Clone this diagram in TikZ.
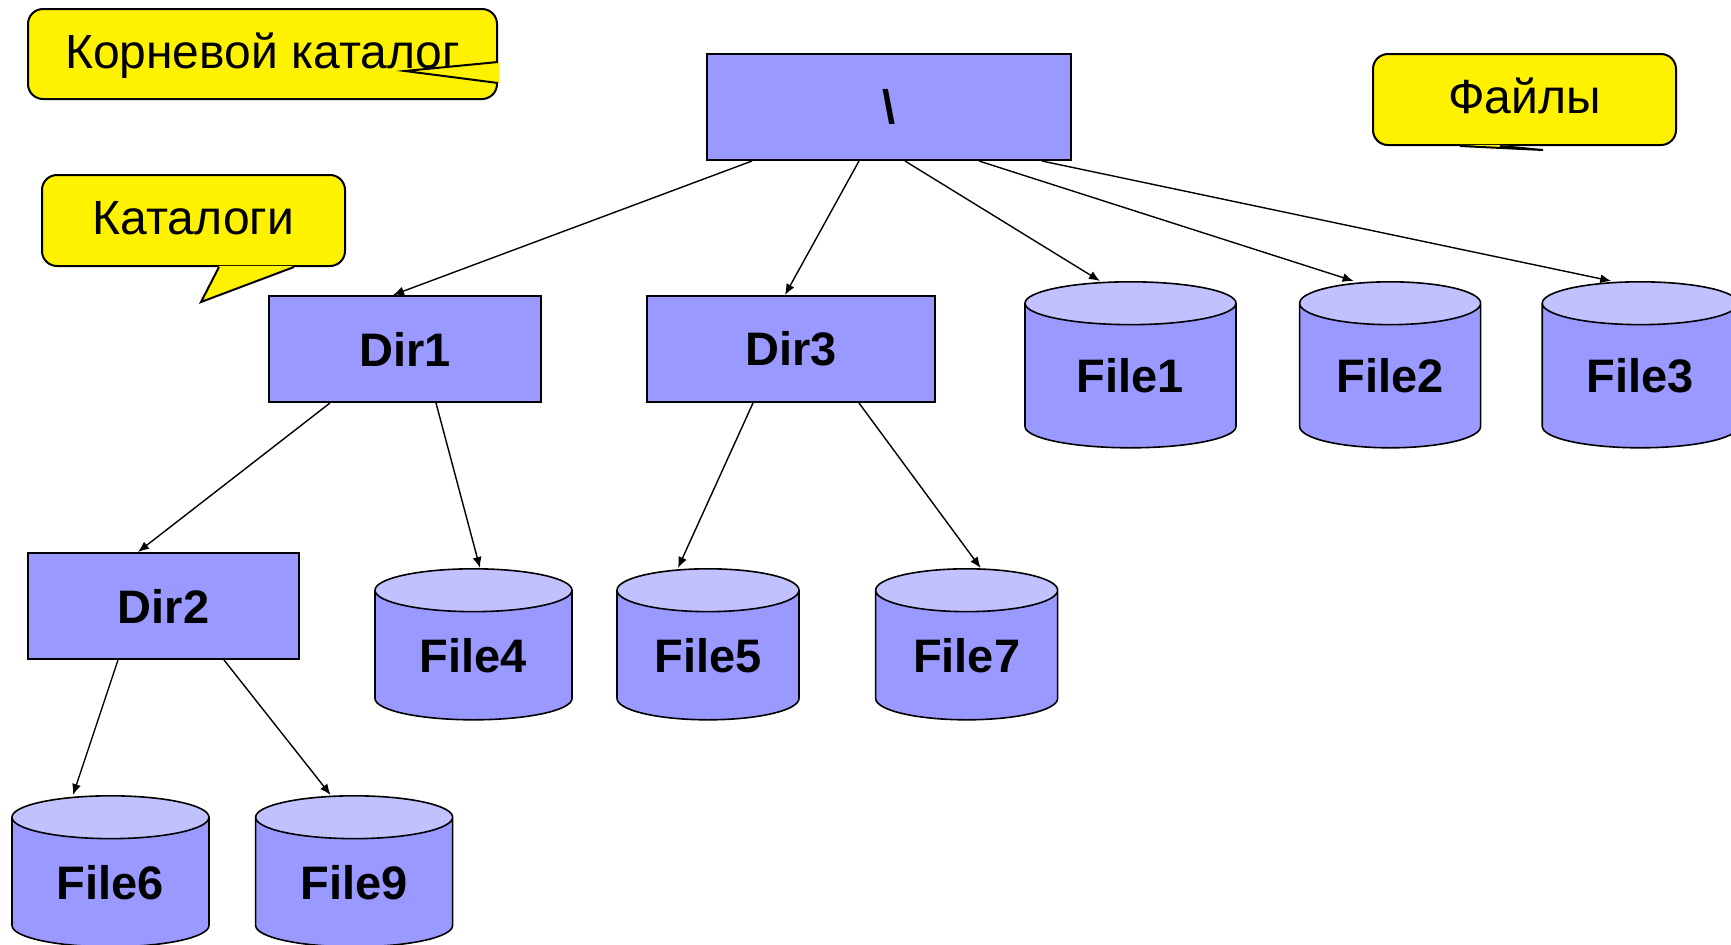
\documentclass[tikz,border=0pt]{standalone}
\usepackage{fontspec}
\setmainfont{Liberation Sans}
\usetikzlibrary{arrows.meta,positioning,calc,shapes.geometric}

\definecolor{dirblue}{RGB}{153,153,255}
\definecolor{filetop}{RGB}{193,193,255}

\begin{document}
\begin{tikzpicture}[node distance=60pt,>={Latex[length=5.5pt,width=4.5pt]}]
\tikzstyle{dirbox}=[draw, line width=1pt, fill=dirblue, inner sep=0pt, minimum height=53pt, font=\fontsize{23.5}{28}\selectfont\bfseries]
\tikzstyle{filecyl}=[draw, line width=0.8pt, cylinder, shape border rotate=90, aspect=0.4, cylinder uses custom fill, cylinder body fill=dirblue, cylinder end fill=filetop, inner sep=0pt, font=\fontsize{23.5}{28}\selectfont\bfseries]
\tikzstyle{note}=[draw, line width=1pt, fill=yellow, rounded corners=7.5pt, inner sep=0pt, minimum width=151.5pt, minimum height=45.5pt, text height=18pt, text depth=3.8pt, font=\fontsize{24}{28}\selectfont]
\tikzstyle{link}=[->, line width=0.7pt]
\path[use as bounding box, clip] (0,0) rectangle (865.5pt,-472pt);

% directories
\node[dirbox, minimum width=182pt] (root) at (444.5pt,-53.5pt) {\textbackslash};
\node[dirbox, below=67pt of root, xshift=-242pt, minimum width=136pt] (dir1) {Dir1};
\node[dirbox, below=67pt of root, xshift=-49pt, minimum width=144pt] (dir3) {Dir3};
\node[dirbox, below=74.5pt of dir1, xshift=-120.75pt, minimum width=135.5pt] (dir2) {Dir2};

% files
\node[filecyl, below=60pt of root, xshift=120.75pt, minimum width=105.5pt, minimum height=83pt] (file1) {File1};
\node[filecyl, right=31pt of file1, minimum width=90.5pt, minimum height=83pt] (file2) {File2};
\node[filecyl, right=30pt of file2, minimum width=98pt, minimum height=83pt] (file3) {File3};
\node[filecyl, below=82.5pt of dir1, xshift=34.25pt, minimum width=98.5pt, minimum height=75.5pt] (file4) {File4};
\node[filecyl, below=82.5pt of dir3, xshift=-41.5pt, minimum width=91pt, minimum height=75.5pt] (file5) {File5};
\node[filecyl, right=37.5pt of file5, minimum width=91pt, minimum height=75.5pt] (file7) {File7};
\node[filecyl, below=67.5pt of dir2, xshift=-26.5pt, minimum width=98.5pt, minimum height=75.5pt] (file6) {File6};
\node[filecyl, right=22.5pt of file6, minimum width=98.5pt, minimum height=75.5pt] (file9) {File9};

% notes
\node[note, minimum width=234.5pt, minimum height=45pt] (rootnote) at (131.25pt,-27pt) {Корневой каталог};
\node[note] (dirnote) at (96.75pt,-110.25pt) {Каталоги};
\node[note] (filenote) at (762.25pt,-49.75pt) {Файлы};

\fill[yellow] ($(rootnote.east)+(0.5pt,-4pt)$) -- ($(rootnote.east)+(-46.5pt,-8.5pt)$) -- ($(rootnote.east)+(0.5pt,-14.5pt)$) -- cycle;
\draw[line width=1pt] ($(rootnote.east)+(0,-4pt)$) -- ($(rootnote.east)+(-46.5pt,-8.5pt)$) -- ($(rootnote.east)+(0,-14.5pt)$);
\fill[yellow] ($(dirnote.south)+(12.75pt,0.6pt)$) -- ($(dirnote.south)+(3.75pt,-17.5pt)$) -- ($(dirnote.south)+(50.25pt,0.6pt)$) -- cycle;
\draw[line width=1pt] ($(dirnote.south)+(12.75pt,0)$) -- ($(dirnote.south)+(3.75pt,-17.5pt)$) -- ($(dirnote.south)+(50.25pt,0)$);
\fill[yellow] ($(filenote.south)+(-32.25pt,0.6pt)$) -- ($(filenote.south)+(9.25pt,-2pt)$) -- ($(filenote.south)+(-12.25pt,0.6pt)$) -- cycle;
\draw[line width=1pt] ($(filenote.south)+(-32.25pt,0)$) -- ($(filenote.south)+(9.25pt,-2pt)$) -- ($(filenote.south)+(-12.25pt,0)$);

% links
\draw[link] ([xshift=-68.5pt]root.south) -- ([xshift=-6pt]dir1.north);
\draw[link] ([xshift=-15pt]root.south) -- ([xshift=-3pt]dir3.north);
\draw[link] ([xshift=8pt]root.south) -- ([xshift=-15.25pt]file1.north);
\draw[link] ([xshift=45pt]root.south) -- ([xshift=-18.25pt]file2.north);
\draw[link] ([xshift=76.5pt]root.south) -- ([xshift=-14.5pt]file3.north);
\draw[link] ([xshift=-37.5pt]dir1.south) -- ([xshift=-12.75pt]dir2.north);
\draw[link] ([xshift=15.5pt]dir1.south) -- ([xshift=3.25pt]file4.north);
\draw[link] ([xshift=-19pt]dir3.south) -- ([xshift=-15pt]file5.north);
\draw[link] ([xshift=34pt]dir3.south) -- ([xshift=7pt]file7.north);
\draw[link] ([xshift=-22.75pt]dir2.south) -- ([xshift=-18.75pt]file6.north);
\draw[link] ([xshift=30.25pt]dir2.south) -- ([xshift=-11.75pt]file9.north);
\end{tikzpicture}
\end{document}
